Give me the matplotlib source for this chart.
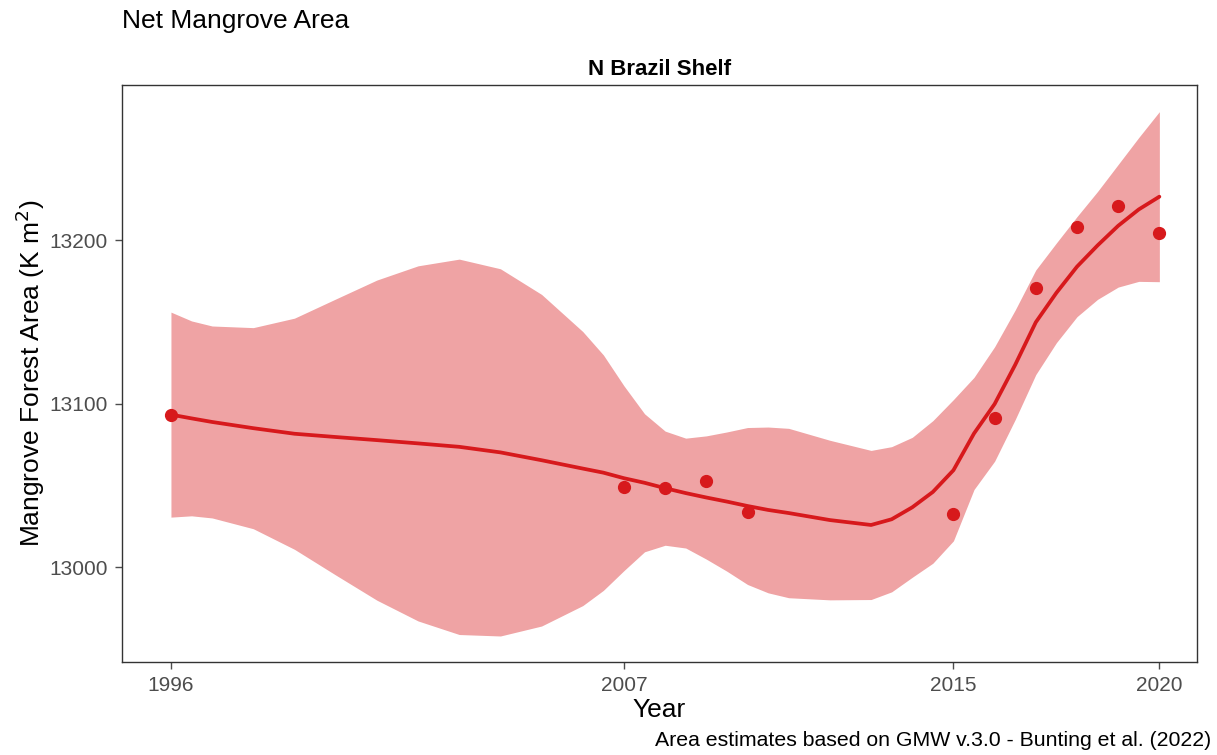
import numpy as np
import matplotlib
matplotlib.use("Agg")
import matplotlib.pyplot as plt

plt.rcParams['font.family'] = ['Liberation Sans', 'DejaVu Sans']

# observed net mangrove area (K m2)
years = [1996, 2007, 2008, 2009, 2010, 2015, 2016, 2017, 2018, 2019, 2020]
area = [13093.5, 13049.3, 13048.7, 13053.0, 13033.8, 13032.8, 13091.5, 13171.0, 13208.5, 13220.8, 13204.3]

# smoothed trend and half width of its 95% band
fit_years = [1996, 1996.5, 1997, 1998, 1999, 2000, 2001, 2002, 2003, 2004, 2005, 2006,
             2006.5, 2007, 2007.5, 2008, 2008.5, 2009, 2009.5, 2010, 2010.5, 2011, 2012,
             2013, 2013.5, 2014, 2014.5, 2015, 2015.5, 2016, 2016.5, 2017, 2017.5, 2018,
             2018.5, 2019, 2019.5, 2020]
fit = [13093.5, 13091.2, 13089.0, 13085.2, 13081.8, 13079.8, 13077.9, 13075.9, 13073.8,
       13070.4, 13065.6, 13060.5, 13058.0, 13054.6, 13051.8, 13048.5, 13045.5, 13042.8,
       13040.3, 13037.6, 13035.2, 13033.3, 13029.0, 13026.0, 13029.5, 13036.8, 13046.2,
       13059.5, 13082.0, 13100.0, 13124.0, 13150.0, 13168.0, 13184.0, 13197.0, 13209.0,
       13219.0, 13226.8]
half_width = [62.7, 59.6, 58.7, 61.5, 70.7, 84.4, 97.9, 108.6, 114.8, 112.3, 101.4, 83.8,
              72.0, 56.5, 42.2, 34.9, 33.6, 37.7, 42.6, 48.0, 50.7, 51.8, 48.8, 45.6, 44.4,
              42.8, 43.6, 43.2, 34.3, 35.0, 33.5, 32.0, 30.5, 30.6, 33.0, 37.5, 44.0, 52.0]

x_ticks = [1996, 2007, 2015, 2020]
y_ticks = [13000, 13100, 13200]

red = '#D7191C'
grey = '#4D4D4D'

fig = plt.figure(figsize=(12.17, 7.55), dpi=100)
ax = fig.add_axes([0.1002, 0.1232, 0.8834, 0.7642])

fit = np.array(fit)
half_width = np.array(half_width)
ax.fill_between(fit_years, fit - half_width, fit + half_width, color=red, alpha=0.4, lw=0)
ax.plot(fit_years, fit, color=red, lw=2.7, solid_capstyle='round', solid_joinstyle='round', zorder=3)
ax.plot(years, area, 'o', color=red, ms=8.5, zorder=4)

ax.set_xlim(1994.81, 2020.915)
ax.set_ylim(12942.2, 13295.1)
ax.set_xticks(x_ticks)
ax.set_yticks(y_ticks)
ax.tick_params(colors=grey, labelsize=15, length=5, width=1, pad=5)
for s in ax.spines.values():
    s.set_color('#333333')
    s.set_linewidth(1.0)

ax.set_title('N Brazil Shelf', fontsize=16, fontweight='bold', pad=7)
ax.set_xlabel('Year', fontsize=19, va='center')
ax.xaxis.set_label_coords(0.5, -0.083)
ax.set_ylabel('Mangrove Forest Area (K m$^2$)', fontsize=19, va='center')
ax.yaxis.set_label_coords(-0.0856, 0.5)

fig.text(122 / 1217, 1 - 21 / 755, 'Net Mangrove Area', fontsize=19, ha='left', va='center')
fig.text(1211 / 1217, 1 - 740 / 755, 'Area estimates based on GMW v.3.0 - Bunting et al. (2022)',
         fontsize=15.3, ha='right', va='center')

fig.savefig('out.png', dpi=100)
